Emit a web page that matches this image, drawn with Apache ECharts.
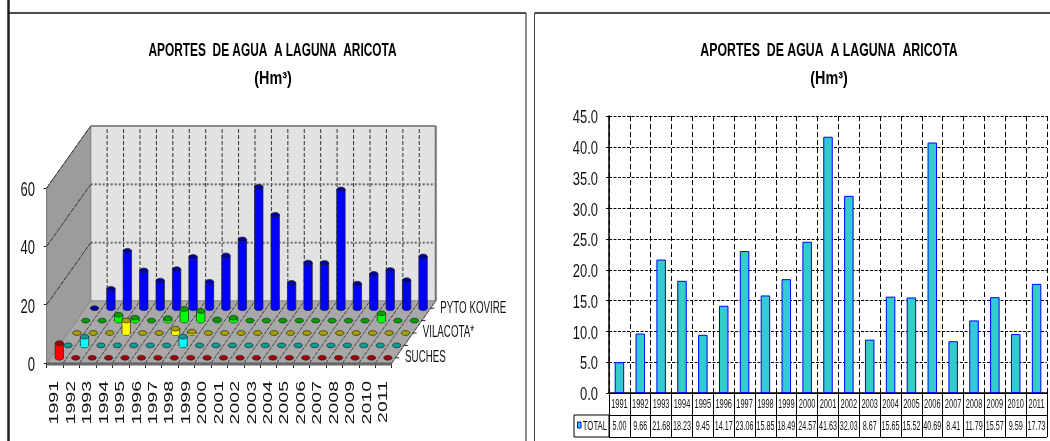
<!DOCTYPE html>
<html><head><meta charset="utf-8">
<style>html,body{margin:0;padding:0;background:#fff}#c{width:1050px;height:441px}</style>
<script src="https://cdn.jsdelivr.net/npm/echarts@6/dist/echarts.min.js"></script>
</head><body><div id="c"></div>
<script>
const years=['1991','1992','1993','1994','1995','1996','1997','1998','1999','2000','2001','2002','2003','2004','2005','2006','2007','2008','2009','2010','2011'];
const total=[5.00,9.66,21.68,18.23,9.45,14.17,23.06,15.85,18.49,24.57,41.63,32.03,8.67,15.65,15.52,40.69,8.41,11.79,15.57,9.59,17.73];
const suches=[5,0,0,0,0,0,0,0,0,0,0,0,0,0,0,0,0,0,0,0,0];
const layer2=[0,3,0,0,0,0,0,3,0,0,0,0,0,0,0,0,0,0,0,0,0];
const vilacota=[0,0,0,4.3,0,0,1.5,0.5,0,0,0,0,0,0,0,0,0,0,0,0,0];
const layer4=[0,0,2,1,0,0.8,4,3.3,0.4,1,0,0,0,0,0,0,0,0,2.5,0,0];
const pytoKovire=[0,6.66,19.68,12.93,9.45,13.37,17.56,9.05,18.09,23.57,41.63,32.03,8.67,15.65,15.52,40.69,8.41,11.79,13.07,9.59,17.73];
const depthLabels=['SUCHES','','VILACOTA*','','PYTO KOVIRE'];
const leftTicks=[0,20,40,60];
const rightTicks=[0,5,10,15,20,25,30,35,40,45];
const titleMain='APORTES  DE AGUA  A LAGUNA  ARICOTA';
const titleSub='(Hm³)';
const FONT='"Liberation Sans",Arial,sans-serif';
const DX=44,DY=-62,LAYERS=5;
const layerStyles=[
 {body:'#ff0000',cap:'#a80000'},{body:'#00ffff',cap:'#109a9a'},{body:'#ffff00',cap:'#a8a000'},
 {body:'#00ff00',cap:'#00a000'},{body:'#0000ff',cap:'#0000a0'}];
function txt(t,x,y,size,sx,align,opt){
  return Object.assign({type:'text',x:x,y:y,scaleX:sx,silent:true,
    style:{text:t,fill:'#111',font:size+'px '+FONT,textAlign:align,textVerticalAlign:'middle'}},opt||{});
}
function renderWalls(params,api){
  const c=params.coordSys, x0=c.x,x1=c.x+c.width,y0=c.y+c.height;
  const top=api.coord([0,60])[1];
  const band=c.width/years.length;
  const ch=[];
  const poly=(pts,fill)=>ch.push({type:'polygon',shape:{points:pts},style:{fill:fill,stroke:'#8a8a8a',lineWidth:1}});
  const line=(a,b,stroke,w,dash)=>ch.push({type:'line',shape:{x1:a[0],y1:a[1],x2:b[0],y2:b[1]},style:{stroke:stroke,lineWidth:w,lineDash:dash||null}});
  poly([[x0+DX,y0+DY],[x1+DX,y0+DY],[x1+DX,top+DY],[x0+DX,top+DY]],'#e2e2e2');
  poly([[x0,y0],[x0+DX,y0+DY],[x0+DX,top+DY],[x0,top]],'#9c9c9c');
  poly([[x0,y0],[x1,y0],[x1+DX,y0+DY],[x0+DX,y0+DY]],'#a8a8a8');
  for(let i=1;i<=years.length;i++){
    const x=x0+band*i;
    line([x+DX,y0+DY],[x+DX,top+DY],'#333',1,[4,2]);
    line([x,y0],[x+DX,y0+DY],'#444',1,[4,1]);
  }
  [20,40,60].forEach(v=>{
    const y=api.coord([0,v])[1];
    line([x0,y],[x0+DX,y+DY],'#333',1,[5,1]);
    if(v<60) line([x0+DX,y+DY],[x1+DX,y+DY],'#666',2,[2,2]);
  });
  line([x0+DX,top+DY],[x1+DX,top+DY],'#8a8a8a',2);
  line([x1+DX,top+DY],[x1+DX,y0+DY],'#777',2);
  line([x0,y0+1],[x1,y0+1],'#666',3);
  return {type:'group',children:ch};
}
function renderCyl(k){
  return function(params,api){
    const i=api.value(0),v=api.value(1);
    const base=api.coord([i,0]),tp=api.coord([i,v]);
    const ox=DX*(k+.5)/LAYERS, oy=DY*(k+.5)/LAYERS;
    const cx=base[0]+ox, by=base[1]+oy+1, ty=tp[1]+oy+1;
    const rx=4.2,ry=2.4,s=layerStyles[k],ch=[];
    if(v>0){
      ch.push({type:'ellipse',shape:{cx:cx,cy:by,rx:rx,ry:ry},style:{fill:s.body,stroke:'#222',lineWidth:.7}});
      ch.push({type:'rect',shape:{x:cx-rx,y:ty,width:rx*2,height:by-ty},style:{fill:s.body,stroke:'#222',lineWidth:.7}});
      ch.push({type:'rect',shape:{x:cx-rx+.6,y:by-1,width:rx*2-1.2,height:2.6},style:{fill:s.body}});
    }
    ch.push({type:'ellipse',shape:{cx:cx,cy:ty,rx:rx,ry:ry},style:{fill:s.cap,stroke:'#222',lineWidth:.7}});
    return {type:'group',children:ch};
  };
}
function renderDepth(params,api){
  const c=params.coordSys, x1=c.x+c.width,y0=c.y+c.height, ch=[];
  depthLabels.forEach((t,k)=>{
    const x=x1+DX*(k+.5)/LAYERS, y=y0+DY*(k+.5)/LAYERS;
    ch.push({type:'line',shape:{x1:x-1,y1:y+1,x2:x+3,y2:y+1},style:{stroke:'#222',lineWidth:1}});
    if(t) ch.push(txt(t,x+9,y+1,16,0.61,'left'));
  });
  return {type:'group',children:ch};
}
const layers=[suches,layer2,vilacota,layer4,pytoKovire];
const names=['SUCHES','Serie 2','VILACOTA*','Serie 4','PYTO KOVIRE'];
const cylSeries=[4,3,2,1,0].map((k,idx)=>({
  type:'custom',name:names[k],xAxisIndex:0,yAxisIndex:0,clip:false,z:3+idx,silent:true,
  encode:{x:0,y:1},renderItem:renderCyl(k),data:layers[k].map((v,i)=>[i,v])
}));
const custom=(ax,z,fn,data)=>({type:'custom',xAxisIndex:ax,yAxisIndex:ax,clip:false,silent:true,z:z,encode:{x:0,y:1},renderItem:fn,data:data});
const titleGfx=(t,x,y,sx)=>({type:'text',x:x,y:y,scaleX:sx,silent:true,style:{text:t,fill:'#000',font:'bold 18px '+FONT,textAlign:'center',textVerticalAlign:'middle'}});
const option={
 animation:false,backgroundColor:'#fff',
 grid:[
  {left:46.7,top:188,width:345,height:175},
  {left:609,top:116,width:438,height:277},
  {left:609,top:393,width:438,height:44}
 ],
 xAxis:[
  {gridIndex:0,type:'category',data:years,axisLine:{lineStyle:{color:'#222'}},axisTick:{show:true,length:5,interval:0,lineStyle:{color:'#222'}},
   axisLabel:{show:false},splitLine:{show:false}},
  {gridIndex:1,type:'category',data:years,axisLine:{lineStyle:{color:'#000',width:1.5}},axisTick:{show:false},axisLabel:{show:false},
   splitLine:{show:true,interval:0,lineStyle:{color:'#000',type:[5,3]}}},
  {gridIndex:2,type:'category',data:years,axisLine:{show:false},axisTick:{show:false},axisLabel:{show:false},
   splitLine:{show:true,interval:0,lineStyle:{color:'#000',width:1}}}
 ],
 yAxis:[
  {gridIndex:0,type:'value',min:0,max:60,interval:20,axisLine:{show:true,lineStyle:{color:'#333'}},axisTick:{show:true,length:3,lineStyle:{color:'#222'}},
   axisLabel:{show:false},splitLine:{show:false}},
  {gridIndex:1,type:'value',min:0,max:45,interval:5,axisLine:{show:true,lineStyle:{color:'#000',width:1.5}},axisTick:{show:true,length:3,lineStyle:{color:'#000'}},
   axisLabel:{show:false},splitLine:{show:true,lineStyle:{color:'#000',type:[3,1.5]}}},
  {gridIndex:2,type:'category',inverse:true,data:['','TOTAL'],axisLine:{show:true,lineStyle:{color:'#000'}},axisTick:{show:false},axisLabel:{show:false},
   splitLine:{show:true,interval:0,lineStyle:{color:'#000',width:1}}}
 ],
 series:[
  Object.assign(custom(0,2,renderWalls,[[0,0]]),{name:'walls'}),
  ...cylSeries,
  Object.assign(custom(0,9,renderDepth,[[0,0]]),{name:'depth'}),
  custom(0,9,(p,api)=>{const a=api.coord([api.value(0),0]);
    return txt(years[api.value(0)],a[0],381,13,1.5,'right',{rotation:Math.PI/2});},years.map((y,i)=>[i,0])),
  custom(0,9,(p,api)=>{const a=api.coord([0,api.value(1)]);
    return txt(String(api.value(1)),35,a[1]+2.5,20,0.65,'right');},leftTicks.map(v=>[0,v])),
  custom(1,9,(p,api)=>{const a=api.coord([0,api.value(1)]);
    return txt(api.value(1).toFixed(1),598,a[1]+2,19,0.68,'right');},rightTicks.map(v=>[0,v])),
  {type:'bar',name:'TOTAL',xAxisIndex:1,yAxisIndex:1,data:total,barWidth:9.5,itemStyle:{color:'#33cccc',borderColor:'#0000ff',borderWidth:1},silent:true},
  custom(2,9,(p,api)=>{const i=api.value(0),a=api.coord([i,0]);
    return txt(years[i],a[0],a[1]+.5,12,0.62,'center');},years.map((y,i)=>[i,0])),
  custom(2,9,(p,api)=>{const i=api.value(0),a=api.coord([i,1]);
    return txt(total[i].toFixed(2),a[0],a[1]+1,12,0.6,'center');},total.map((v,i)=>[i,1])),
  custom(2,9,(p,api)=>{const a=api.coord([0,1]);
    return txt('TOTAL',p.coordSys.x-26.3,a[1]+1,12,0.65,'left');},[[0,1]])
 ],
 graphic:[
  titleGfx(titleMain,272.5,51,0.66),titleGfx(titleSub,273,79,0.8),
  titleGfx(titleMain,829,51,0.685),titleGfx(titleSub,829,79,0.8),
  {type:'line',shape:{x1:8.5,y1:0,x2:8.5,y2:441},style:{stroke:'#222',lineWidth:2.5}},
  {type:'line',shape:{x1:8,y1:13,x2:526,y2:13},style:{stroke:'#111',lineWidth:1.5}},
  {type:'line',shape:{x1:526,y1:13,x2:526,y2:441},style:{stroke:'#666',lineWidth:1.5}},
  {type:'line',shape:{x1:534.5,y1:13,x2:1050,y2:13},style:{stroke:'#111',lineWidth:1.5}},
  {type:'line',shape:{x1:534.5,y1:13,x2:534.5,y2:441},style:{stroke:'#444',lineWidth:1}},
  {type:'rect',shape:{x:574,y:415,width:35,height:22},style:{fill:'none',stroke:'#000',lineWidth:1}},
  {type:'rect',shape:{x:577.5,y:422,width:3.5,height:6},style:{fill:'#33cccc',stroke:'#0000ff',lineWidth:1}}
 ]
};
const chart=echarts.init(document.getElementById('c'),null,{renderer:'canvas'});
chart.setOption(option);
</script></body></html>
